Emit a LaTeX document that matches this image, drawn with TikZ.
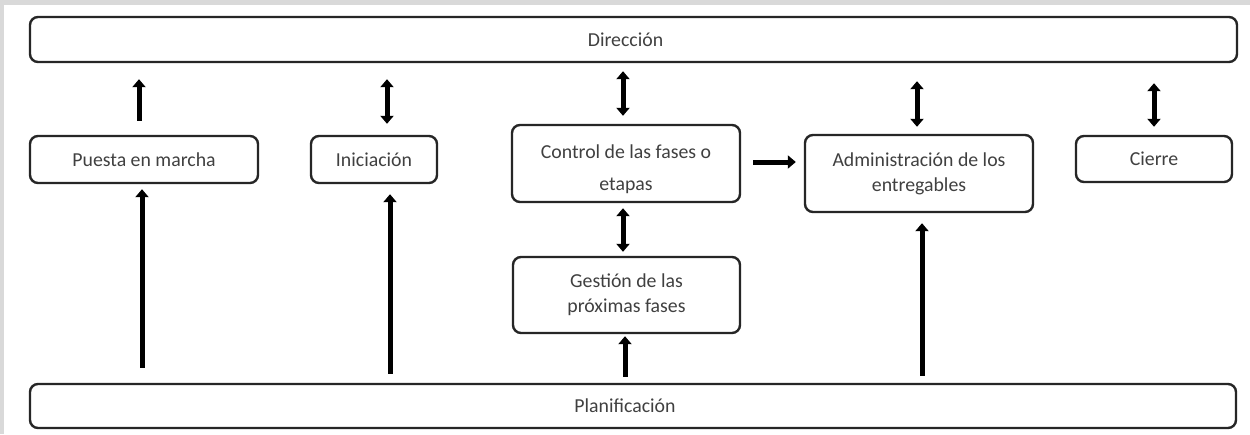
\documentclass[tikz,border=0pt]{standalone}
\usepackage{fontspec}
\setmainfont{Carlito}
\usetikzlibrary{arrows.meta}

\tikzset{
  box/.style={draw=black!85, line width=2.4pt, rounded corners=8pt, fill=white,
    text=black!75, font=\fontsize{19.8}{25}\selectfont, align=center, inner sep=0pt},
  arr/.style={-{Triangle[length=8pt,width=13pt]}, line width=5pt, black},
  darr/.style={{Triangle[length=8pt,width=13pt]}-{Triangle[length=8pt,width=13pt]}, line width=5pt, black}
}

\begin{document}
\begin{tikzpicture}[x=1pt,y=-1pt]
   \fill[black!15] (0,0) rectangle (1250,434);
   \fill[white] (4,5) rectangle (1250,434);
   \useasboundingbox (0,0) rectangle (1250,434);

   \node[box, minimum width=1207pt, minimum height=45pt] (dir) at (633.5,39.5) {Dirección\hspace*{16pt}};
   \node[box, minimum width=1206pt, minimum height=44pt] (plan) at (633,406) {Planificación\hspace*{16pt}};
   \node[box, minimum width=228pt, minimum height=47pt] (puesta) at (144,159.5) {Puesta en marcha};
   \node[box, minimum width=126pt, minimum height=47pt] (inic) at (374,159.5) {Iniciación};
   \node[box, minimum width=228pt, minimum height=77pt] (ctrl) at (626,163.5) {\rule{0pt}{26pt}Control de las fases o\\[7pt]etapas};
   \node[box, minimum width=227pt, minimum height=76pt] (gest) at (626.5,295) {Gestión de las\\próximas fases};
   \node[box, minimum width=228pt, minimum height=77pt] (admin) at (919,173.5) {Administración de los\\entregables};
   \node[box, minimum width=156pt, minimum height=46pt] (cierre) at (1154,159) {Cierre};

   \draw[arr, shorten <=14pt, shorten >=16pt] ([xshift=-5pt]puesta.north) -- ([xshift=-5pt]puesta.north |- dir.south);
   \draw[darr, shorten <=11pt, shorten >=16pt] ([xshift=13pt]inic.north) -- ([xshift=13pt]inic.north |- dir.south);
   \draw[darr, shorten <=8pt, shorten >=8pt] ([xshift=-3pt]ctrl.north) -- ([xshift=-3pt]ctrl.north |- dir.south);
   \draw[darr, shorten <=7pt, shorten >=18pt] ([xshift=-2pt]admin.north) -- ([xshift=-2pt]admin.north |- dir.south);
   \draw[darr, shorten <=8pt, shorten >=20pt] (cierre.north) -- (cierre.north |- dir.south);
   \draw[arr, shorten <=12pt, shorten >=8pt] ([yshift=1.5pt]ctrl.east) -- ([yshift=1.5pt]ctrl.east -| admin.west);
   \draw[darr, shorten <=5pt, shorten >=4pt] ([xshift=-3pt]ctrl.south) -- ([xshift=-3pt]ctrl.south |- gest.north);

   \draw[arr, shorten <=15pt, shorten >=5pt] ([xshift=-2pt]puesta.south |- plan.north) -- ([xshift=-2pt]puesta.south);
   \draw[arr, shorten <=9pt, shorten >=10pt] ([xshift=16pt]inic.south |- plan.north) -- ([xshift=16pt]inic.south);
   \draw[arr, shorten <=6pt, shorten >=2pt] ([xshift=-1.5pt]gest.south |- plan.north) -- ([xshift=-1.5pt]gest.south);
   \draw[arr, shorten <=7pt, shorten >=10pt] ([xshift=3pt]admin.south |- plan.north) -- ([xshift=3pt]admin.south);
\end{tikzpicture}
\end{document}
